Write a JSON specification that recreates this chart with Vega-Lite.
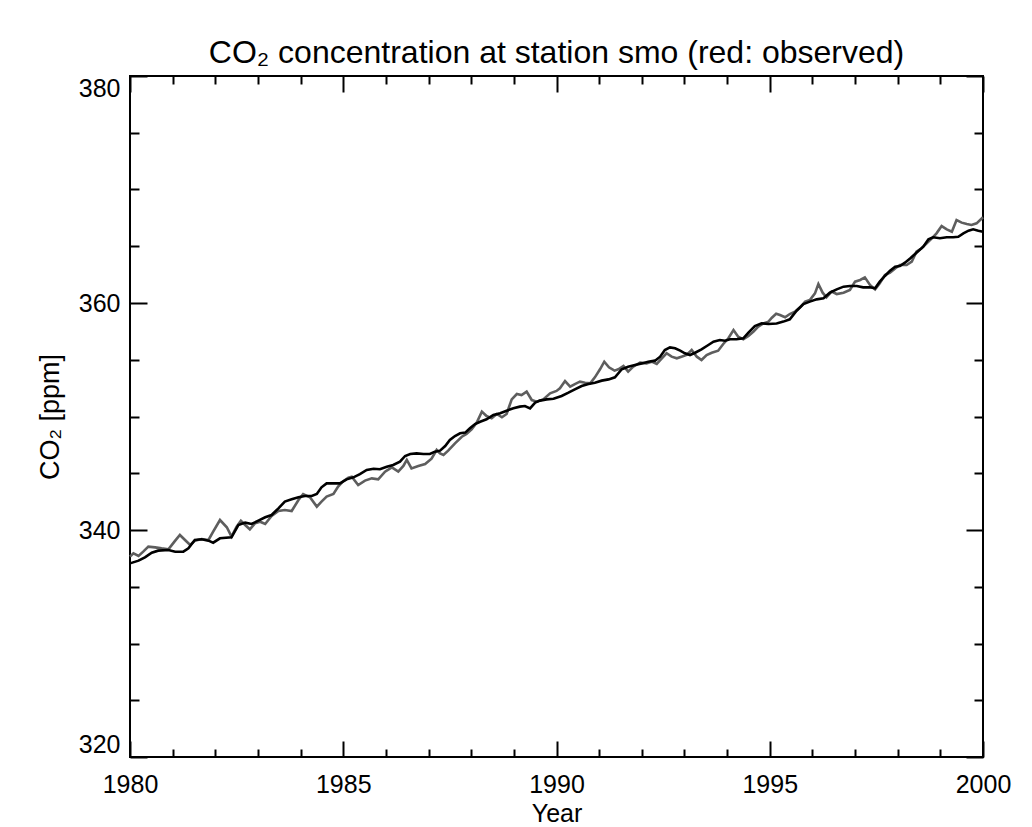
{
  "$schema": "https://vega.github.io/schema/vega-lite/v6.json",
  "width": 853,
  "height": 681,
  "autosize": {"type": "none"},
  "padding": {"left": 130, "top": 76, "right": 49, "bottom": 70},
  "background": "white",
  "config": {
    "view": {"stroke": "black", "strokeWidth": 2},
    "axis": {
      "domain": false,
      "grid": false,
      "minExtent": 0,
      "tickColor": "black",
      "tickWidth": 2,
      "labelColor": "black",
      "titleColor": "black",
      "labelFont": "Liberation Sans",
      "labelFontSize": 25,
      "titleFont": "Liberation Sans",
      "titleFontSize": 25,
      "titleFontWeight": "normal",
      "labelOverlap": false,
      "labelBound": false
    }
  },
  "title": {
    "text": "CO₂ concentration at station smo (red: observed)",
    "font": "Liberation Sans",
    "fontSize": 32,
    "fontWeight": "normal",
    "color": "black",
    "anchor": "middle",
    "frame": "group",
    "baseline": "alphabetic",
    "offset": -20
  },
  "data": {
    "values": [
      {"series": "model", "year": 1980.00, "co2": 337.06},
      {"series": "model", "year": 1980.20, "co2": 337.30},
      {"series": "model", "year": 1980.35, "co2": 337.59},
      {"series": "model", "year": 1980.51, "co2": 338.00},
      {"series": "model", "year": 1980.66, "co2": 338.18},
      {"series": "model", "year": 1980.90, "co2": 338.24},
      {"series": "model", "year": 1981.06, "co2": 338.09},
      {"series": "model", "year": 1981.25, "co2": 338.09},
      {"series": "model", "year": 1981.37, "co2": 338.38},
      {"series": "model", "year": 1981.52, "co2": 339.12},
      {"series": "model", "year": 1981.68, "co2": 339.18},
      {"series": "model", "year": 1981.84, "co2": 339.06},
      {"series": "model", "year": 1981.95, "co2": 338.88},
      {"series": "model", "year": 1982.11, "co2": 339.27},
      {"series": "model", "year": 1982.38, "co2": 339.35},
      {"series": "model", "year": 1982.54, "co2": 340.44},
      {"series": "model", "year": 1982.70, "co2": 340.65},
      {"series": "model", "year": 1982.85, "co2": 340.53},
      {"series": "model", "year": 1983.01, "co2": 340.82},
      {"series": "model", "year": 1983.17, "co2": 341.12},
      {"series": "model", "year": 1983.32, "co2": 341.32},
      {"series": "model", "year": 1983.48, "co2": 341.91},
      {"series": "model", "year": 1983.63, "co2": 342.50},
      {"series": "model", "year": 1983.79, "co2": 342.70},
      {"series": "model", "year": 1983.95, "co2": 342.88},
      {"series": "model", "year": 1984.10, "co2": 343.00},
      {"series": "model", "year": 1984.26, "co2": 343.00},
      {"series": "model", "year": 1984.38, "co2": 343.17},
      {"series": "model", "year": 1984.49, "co2": 343.76},
      {"series": "model", "year": 1984.61, "co2": 344.11},
      {"series": "model", "year": 1984.77, "co2": 344.11},
      {"series": "model", "year": 1984.92, "co2": 344.11},
      {"series": "model", "year": 1985.08, "co2": 344.46},
      {"series": "model", "year": 1985.24, "co2": 344.64},
      {"series": "model", "year": 1985.39, "co2": 344.93},
      {"series": "model", "year": 1985.55, "co2": 345.29},
      {"series": "model", "year": 1985.71, "co2": 345.40},
      {"series": "model", "year": 1985.86, "co2": 345.35},
      {"series": "model", "year": 1986.02, "co2": 345.58},
      {"series": "model", "year": 1986.17, "co2": 345.73},
      {"series": "model", "year": 1986.33, "co2": 346.02},
      {"series": "model", "year": 1986.45, "co2": 346.52},
      {"series": "model", "year": 1986.57, "co2": 346.70},
      {"series": "model", "year": 1986.72, "co2": 346.75},
      {"series": "model", "year": 1986.88, "co2": 346.70},
      {"series": "model", "year": 1987.03, "co2": 346.70},
      {"series": "model", "year": 1987.15, "co2": 346.90},
      {"series": "model", "year": 1987.27, "co2": 346.99},
      {"series": "model", "year": 1987.39, "co2": 347.40},
      {"series": "model", "year": 1987.50, "co2": 347.93},
      {"series": "model", "year": 1987.62, "co2": 348.28},
      {"series": "model", "year": 1987.74, "co2": 348.52},
      {"series": "model", "year": 1987.86, "co2": 348.58},
      {"series": "model", "year": 1987.97, "co2": 348.96},
      {"series": "model", "year": 1988.09, "co2": 349.34},
      {"series": "model", "year": 1988.21, "co2": 349.54},
      {"series": "model", "year": 1988.36, "co2": 349.75},
      {"series": "model", "year": 1988.52, "co2": 350.13},
      {"series": "model", "year": 1988.68, "co2": 350.28},
      {"series": "model", "year": 1988.83, "co2": 350.51},
      {"series": "model", "year": 1988.99, "co2": 350.72},
      {"series": "model", "year": 1989.14, "co2": 350.87},
      {"series": "model", "year": 1989.26, "co2": 350.92},
      {"series": "model", "year": 1989.38, "co2": 350.72},
      {"series": "model", "year": 1989.50, "co2": 351.22},
      {"series": "model", "year": 1989.61, "co2": 351.40},
      {"series": "model", "year": 1989.77, "co2": 351.51},
      {"series": "model", "year": 1989.93, "co2": 351.57},
      {"series": "model", "year": 1990.12, "co2": 351.81},
      {"series": "model", "year": 1990.28, "co2": 352.10},
      {"series": "model", "year": 1990.43, "co2": 352.39},
      {"series": "model", "year": 1990.59, "co2": 352.69},
      {"series": "model", "year": 1990.75, "co2": 352.86},
      {"series": "model", "year": 1990.90, "co2": 352.98},
      {"series": "model", "year": 1991.06, "co2": 353.16},
      {"series": "model", "year": 1991.22, "co2": 353.27},
      {"series": "model", "year": 1991.37, "co2": 353.45},
      {"series": "model", "year": 1991.53, "co2": 354.16},
      {"series": "model", "year": 1991.68, "co2": 354.39},
      {"series": "model", "year": 1991.84, "co2": 354.54},
      {"series": "model", "year": 1992.00, "co2": 354.68},
      {"series": "model", "year": 1992.15, "co2": 354.83},
      {"series": "model", "year": 1992.31, "co2": 354.92},
      {"series": "model", "year": 1992.43, "co2": 355.27},
      {"series": "model", "year": 1992.54, "co2": 355.86},
      {"series": "model", "year": 1992.66, "co2": 356.09},
      {"series": "model", "year": 1992.78, "co2": 356.01},
      {"series": "model", "year": 1992.90, "co2": 355.80},
      {"series": "model", "year": 1993.01, "co2": 355.57},
      {"series": "model", "year": 1993.13, "co2": 355.42},
      {"series": "model", "year": 1993.25, "co2": 355.62},
      {"series": "model", "year": 1993.40, "co2": 355.92},
      {"series": "model", "year": 1993.56, "co2": 356.30},
      {"series": "model", "year": 1993.68, "co2": 356.59},
      {"series": "model", "year": 1993.83, "co2": 356.74},
      {"series": "model", "year": 1993.95, "co2": 356.68},
      {"series": "model", "year": 1994.07, "co2": 356.80},
      {"series": "model", "year": 1994.22, "co2": 356.80},
      {"series": "model", "year": 1994.38, "co2": 356.89},
      {"series": "model", "year": 1994.50, "co2": 357.39},
      {"series": "model", "year": 1994.65, "co2": 357.97},
      {"series": "model", "year": 1994.81, "co2": 358.21},
      {"series": "model", "year": 1994.97, "co2": 358.15},
      {"series": "model", "year": 1995.16, "co2": 358.20},
      {"series": "model", "year": 1995.32, "co2": 358.36},
      {"series": "model", "year": 1995.47, "co2": 358.56},
      {"series": "model", "year": 1995.63, "co2": 359.32},
      {"series": "model", "year": 1995.79, "co2": 359.91},
      {"series": "model", "year": 1995.94, "co2": 360.12},
      {"series": "model", "year": 1996.10, "co2": 360.32},
      {"series": "model", "year": 1996.26, "co2": 360.41},
      {"series": "model", "year": 1996.41, "co2": 360.91},
      {"series": "model", "year": 1996.57, "co2": 361.20},
      {"series": "model", "year": 1996.73, "co2": 361.44},
      {"series": "model", "year": 1996.88, "co2": 361.50},
      {"series": "model", "year": 1997.04, "co2": 361.50},
      {"series": "model", "year": 1997.19, "co2": 361.38},
      {"series": "model", "year": 1997.35, "co2": 361.38},
      {"series": "model", "year": 1997.47, "co2": 361.29},
      {"series": "model", "year": 1997.58, "co2": 361.88},
      {"series": "model", "year": 1997.70, "co2": 362.38},
      {"series": "model", "year": 1997.82, "co2": 362.85},
      {"series": "model", "year": 1997.94, "co2": 363.20},
      {"series": "model", "year": 1998.05, "co2": 363.26},
      {"series": "model", "year": 1998.17, "co2": 363.55},
      {"series": "model", "year": 1998.29, "co2": 363.93},
      {"series": "model", "year": 1998.44, "co2": 364.43},
      {"series": "model", "year": 1998.60, "co2": 364.96},
      {"series": "model", "year": 1998.72, "co2": 365.61},
      {"series": "model", "year": 1998.83, "co2": 365.79},
      {"series": "model", "year": 1998.99, "co2": 365.70},
      {"series": "model", "year": 1999.15, "co2": 365.79},
      {"series": "model", "year": 1999.30, "co2": 365.79},
      {"series": "model", "year": 1999.42, "co2": 365.84},
      {"series": "model", "year": 1999.54, "co2": 366.14},
      {"series": "model", "year": 1999.66, "co2": 366.37},
      {"series": "model", "year": 1999.77, "co2": 366.49},
      {"series": "model", "year": 1999.89, "co2": 366.37},
      {"series": "model", "year": 2000.00, "co2": 366.28},
      {"series": "observed", "year": 1980.00, "co2": 337.65},
      {"series": "observed", "year": 1980.08, "co2": 337.94},
      {"series": "observed", "year": 1980.20, "co2": 337.71},
      {"series": "observed", "year": 1980.31, "co2": 338.09},
      {"series": "observed", "year": 1980.43, "co2": 338.53},
      {"series": "observed", "year": 1980.59, "co2": 338.47},
      {"series": "observed", "year": 1980.74, "co2": 338.38},
      {"series": "observed", "year": 1980.90, "co2": 338.30},
      {"series": "observed", "year": 1981.06, "co2": 339.06},
      {"series": "observed", "year": 1981.17, "co2": 339.56},
      {"series": "observed", "year": 1981.29, "co2": 339.12},
      {"series": "observed", "year": 1981.41, "co2": 338.68},
      {"series": "observed", "year": 1981.52, "co2": 339.06},
      {"series": "observed", "year": 1981.68, "co2": 339.21},
      {"series": "observed", "year": 1981.84, "co2": 339.12},
      {"series": "observed", "year": 1981.95, "co2": 339.85},
      {"series": "observed", "year": 1982.11, "co2": 340.88},
      {"series": "observed", "year": 1982.27, "co2": 340.24},
      {"series": "observed", "year": 1982.38, "co2": 339.41},
      {"series": "observed", "year": 1982.50, "co2": 340.29},
      {"series": "observed", "year": 1982.60, "co2": 340.82},
      {"series": "observed", "year": 1982.70, "co2": 340.44},
      {"series": "observed", "year": 1982.81, "co2": 340.06},
      {"series": "observed", "year": 1982.93, "co2": 340.59},
      {"series": "observed", "year": 1983.05, "co2": 340.73},
      {"series": "observed", "year": 1983.17, "co2": 340.53},
      {"series": "observed", "year": 1983.32, "co2": 341.23},
      {"series": "observed", "year": 1983.48, "co2": 341.67},
      {"series": "observed", "year": 1983.63, "co2": 341.76},
      {"series": "observed", "year": 1983.79, "co2": 341.67},
      {"series": "observed", "year": 1983.95, "co2": 342.64},
      {"series": "observed", "year": 1984.06, "co2": 343.17},
      {"series": "observed", "year": 1984.22, "co2": 342.88},
      {"series": "observed", "year": 1984.38, "co2": 342.06},
      {"series": "observed", "year": 1984.49, "co2": 342.50},
      {"series": "observed", "year": 1984.61, "co2": 342.94},
      {"series": "observed", "year": 1984.77, "co2": 343.17},
      {"series": "observed", "year": 1984.88, "co2": 343.82},
      {"series": "observed", "year": 1985.00, "co2": 344.30},
      {"series": "observed", "year": 1985.12, "co2": 344.60},
      {"series": "observed", "year": 1985.20, "co2": 344.70},
      {"series": "observed", "year": 1985.35, "co2": 343.96},
      {"series": "observed", "year": 1985.51, "co2": 344.35},
      {"series": "observed", "year": 1985.67, "co2": 344.55},
      {"series": "observed", "year": 1985.82, "co2": 344.46},
      {"series": "observed", "year": 1985.98, "co2": 345.14},
      {"series": "observed", "year": 1986.14, "co2": 345.52},
      {"series": "observed", "year": 1986.29, "co2": 345.14},
      {"series": "observed", "year": 1986.41, "co2": 345.64},
      {"series": "observed", "year": 1986.49, "co2": 346.17},
      {"series": "observed", "year": 1986.60, "co2": 345.43},
      {"series": "observed", "year": 1986.76, "co2": 345.64},
      {"series": "observed", "year": 1986.92, "co2": 345.81},
      {"series": "observed", "year": 1987.07, "co2": 346.28},
      {"series": "observed", "year": 1987.19, "co2": 347.05},
      {"series": "observed", "year": 1987.27, "co2": 346.75},
      {"series": "observed", "year": 1987.35, "co2": 346.61},
      {"series": "observed", "year": 1987.46, "co2": 346.99},
      {"series": "observed", "year": 1987.62, "co2": 347.64},
      {"series": "observed", "year": 1987.78, "co2": 348.22},
      {"series": "observed", "year": 1987.89, "co2": 348.46},
      {"series": "observed", "year": 1988.01, "co2": 348.87},
      {"series": "observed", "year": 1988.13, "co2": 349.46},
      {"series": "observed", "year": 1988.25, "co2": 350.43},
      {"series": "observed", "year": 1988.36, "co2": 350.04},
      {"series": "observed", "year": 1988.48, "co2": 349.84},
      {"series": "observed", "year": 1988.60, "co2": 350.22},
      {"series": "observed", "year": 1988.72, "co2": 349.93},
      {"series": "observed", "year": 1988.83, "co2": 350.22},
      {"series": "observed", "year": 1988.95, "co2": 351.51},
      {"series": "observed", "year": 1989.07, "co2": 351.98},
      {"series": "observed", "year": 1989.18, "co2": 351.89},
      {"series": "observed", "year": 1989.30, "co2": 352.19},
      {"series": "observed", "year": 1989.42, "co2": 351.45},
      {"series": "observed", "year": 1989.54, "co2": 351.31},
      {"series": "observed", "year": 1989.69, "co2": 351.51},
      {"series": "observed", "year": 1989.85, "co2": 352.04},
      {"series": "observed", "year": 1990.00, "co2": 352.25},
      {"series": "observed", "year": 1990.08, "co2": 352.48},
      {"series": "observed", "year": 1990.20, "co2": 353.12},
      {"series": "observed", "year": 1990.32, "co2": 352.63},
      {"series": "observed", "year": 1990.43, "co2": 352.86},
      {"series": "observed", "year": 1990.55, "co2": 353.07},
      {"series": "observed", "year": 1990.67, "co2": 352.98},
      {"series": "observed", "year": 1990.79, "co2": 352.92},
      {"series": "observed", "year": 1990.90, "co2": 353.45},
      {"series": "observed", "year": 1991.02, "co2": 354.16},
      {"series": "observed", "year": 1991.12, "co2": 354.83},
      {"series": "observed", "year": 1991.23, "co2": 354.33},
      {"series": "observed", "year": 1991.36, "co2": 354.04},
      {"series": "observed", "year": 1991.45, "co2": 354.16},
      {"series": "observed", "year": 1991.57, "co2": 354.45},
      {"series": "observed", "year": 1991.68, "co2": 353.95},
      {"series": "observed", "year": 1991.80, "co2": 354.39},
      {"series": "observed", "year": 1991.96, "co2": 354.74},
      {"series": "observed", "year": 1992.11, "co2": 354.68},
      {"series": "observed", "year": 1992.23, "co2": 354.83},
      {"series": "observed", "year": 1992.35, "co2": 354.63},
      {"series": "observed", "year": 1992.47, "co2": 355.13},
      {"series": "observed", "year": 1992.58, "co2": 355.57},
      {"series": "observed", "year": 1992.70, "co2": 355.27},
      {"series": "observed", "year": 1992.82, "co2": 355.13},
      {"series": "observed", "year": 1992.93, "co2": 355.27},
      {"series": "observed", "year": 1993.05, "co2": 355.42},
      {"series": "observed", "year": 1993.17, "co2": 355.86},
      {"series": "observed", "year": 1993.29, "co2": 355.27},
      {"series": "observed", "year": 1993.40, "co2": 354.98},
      {"series": "observed", "year": 1993.52, "co2": 355.42},
      {"series": "observed", "year": 1993.64, "co2": 355.62},
      {"series": "observed", "year": 1993.79, "co2": 355.80},
      {"series": "observed", "year": 1993.91, "co2": 356.39},
      {"series": "observed", "year": 1994.03, "co2": 356.89},
      {"series": "observed", "year": 1994.15, "co2": 357.62},
      {"series": "observed", "year": 1994.26, "co2": 357.03},
      {"series": "observed", "year": 1994.38, "co2": 356.80},
      {"series": "observed", "year": 1994.50, "co2": 357.10},
      {"series": "observed", "year": 1994.62, "co2": 357.48},
      {"series": "observed", "year": 1994.73, "co2": 357.92},
      {"series": "observed", "year": 1994.85, "co2": 358.21},
      {"series": "observed", "year": 1994.97, "co2": 358.36},
      {"series": "observed", "year": 1995.05, "co2": 358.70},
      {"series": "observed", "year": 1995.15, "co2": 359.05},
      {"series": "observed", "year": 1995.24, "co2": 358.94},
      {"series": "observed", "year": 1995.36, "co2": 358.74},
      {"series": "observed", "year": 1995.47, "co2": 359.03},
      {"series": "observed", "year": 1995.59, "co2": 359.24},
      {"series": "observed", "year": 1995.71, "co2": 359.62},
      {"series": "observed", "year": 1995.83, "co2": 360.12},
      {"series": "observed", "year": 1995.94, "co2": 360.26},
      {"series": "observed", "year": 1996.06, "co2": 360.85},
      {"series": "observed", "year": 1996.14, "co2": 361.67},
      {"series": "observed", "year": 1996.24, "co2": 360.91},
      {"series": "observed", "year": 1996.33, "co2": 360.50},
      {"series": "observed", "year": 1996.45, "co2": 361.00},
      {"series": "observed", "year": 1996.57, "co2": 360.79},
      {"series": "observed", "year": 1996.73, "co2": 360.91},
      {"series": "observed", "year": 1996.88, "co2": 361.15},
      {"series": "observed", "year": 1997.00, "co2": 361.88},
      {"series": "observed", "year": 1997.12, "co2": 362.03},
      {"series": "observed", "year": 1997.23, "co2": 362.26},
      {"series": "observed", "year": 1997.35, "co2": 361.59},
      {"series": "observed", "year": 1997.47, "co2": 361.20},
      {"series": "observed", "year": 1997.58, "co2": 361.73},
      {"series": "observed", "year": 1997.70, "co2": 362.47},
      {"series": "observed", "year": 1997.82, "co2": 362.67},
      {"series": "observed", "year": 1997.94, "co2": 363.05},
      {"series": "observed", "year": 1998.05, "co2": 363.35},
      {"series": "observed", "year": 1998.21, "co2": 363.35},
      {"series": "observed", "year": 1998.33, "co2": 363.64},
      {"series": "observed", "year": 1998.44, "co2": 364.52},
      {"series": "observed", "year": 1998.56, "co2": 364.82},
      {"series": "observed", "year": 1998.68, "co2": 365.26},
      {"series": "observed", "year": 1998.80, "co2": 365.70},
      {"series": "observed", "year": 1998.91, "co2": 366.14},
      {"series": "observed", "year": 1999.03, "co2": 366.78},
      {"series": "observed", "year": 1999.15, "co2": 366.49},
      {"series": "observed", "year": 1999.27, "co2": 366.28},
      {"series": "observed", "year": 1999.38, "co2": 367.31},
      {"series": "observed", "year": 1999.50, "co2": 367.08},
      {"series": "observed", "year": 1999.62, "co2": 366.96},
      {"series": "observed", "year": 1999.73, "co2": 366.87},
      {"series": "observed", "year": 1999.85, "co2": 367.02},
      {"series": "observed", "year": 2000.00, "co2": 367.55}
    ]
  },
  "layer": [
    {
      "transform": [{"filter": "datum.series === 'observed'"}],
      "mark": {"type": "line", "color": "#5e5e5e", "strokeWidth": 2.6},
      "encoding": {
        "x": {"field": "year", "type": "quantitative",
          "scale": {"domain": [1980, 2000], "nice": false, "zero": false},
          "axis": {"orient": "bottom", "values": [1980, 1985, 1990, 1995, 2000], "format": "d", "ticks": false, "labelPadding": 15, "labelFlush": false, "title": "Year", "titlePadding": 4}},
        "y": {"field": "co2", "type": "quantitative",
          "scale": {"domain": [320, 380], "nice": false, "zero": false},
          "axis": {"orient": "left", "values": [320, 340, 360, 380], "format": "d", "ticks": false, "labelPadding": 10, "labelFlush": true, "labelFlushOffset": 0, "title": "CO₂ [ppm]", "titleFont": "Liberation Sans", "titleFontSize": 27, "titlePadding": 14}}
      }
    },
    {
      "transform": [{"filter": "datum.series === 'model'"}],
      "mark": {"type": "line", "color": "#000000", "strokeWidth": 2.6},
      "encoding": {
        "x": {"field": "year", "type": "quantitative",
          "axis": {"orient": "bottom", "values": [1980, 1985, 1990, 1995, 2000], "labels": false, "tickSize": -16, "title": null}},
        "y": {"field": "co2", "type": "quantitative",
          "axis": {"orient": "left", "values": [320, 340, 360, 380], "labels": false, "tickSize": -17, "title": null}}
      }
    },
    {
      "mark": {"type": "line", "opacity": 0},
      "encoding": {
        "detail": {"field": "series"},
        "x": {"field": "year", "type": "quantitative",
          "axis": {"orient": "bottom", "values": [1981, 1982, 1983, 1984, 1986, 1987, 1988, 1989, 1991, 1992, 1993, 1994, 1996, 1997, 1998, 1999], "labels": false, "tickSize": -8, "title": null}},
        "y": {"field": "co2", "type": "quantitative",
          "axis": {"orient": "left", "values": [325, 330, 335, 345, 350, 355, 365, 370, 375], "labels": false, "tickSize": -9, "title": null}}
      }
    },
    {
      "mark": {"type": "line", "opacity": 0},
      "encoding": {
        "detail": {"field": "series"},
        "x": {"field": "year", "type": "quantitative",
          "axis": {"orient": "top", "values": [1980, 1985, 1990, 1995, 2000], "labels": false, "tickSize": -16, "title": null}},
        "y": {"field": "co2", "type": "quantitative",
          "axis": {"orient": "right", "values": [320, 340, 360, 380], "labels": false, "tickSize": -17, "title": null}}
      }
    },
    {
      "mark": {"type": "line", "opacity": 0},
      "encoding": {
        "detail": {"field": "series"},
        "x": {"field": "year", "type": "quantitative",
          "axis": {"orient": "top", "values": [1981, 1982, 1983, 1984, 1986, 1987, 1988, 1989, 1991, 1992, 1993, 1994, 1996, 1997, 1998, 1999], "labels": false, "tickSize": -8, "title": null}},
        "y": {"field": "co2", "type": "quantitative",
          "axis": {"orient": "right", "values": [325, 330, 335, 345, 350, 355, 365, 370, 375], "labels": false, "tickSize": -9, "title": null}}
      }
    }
  ],
  "resolve": {"axis": {"x": "independent", "y": "independent"}}
}
